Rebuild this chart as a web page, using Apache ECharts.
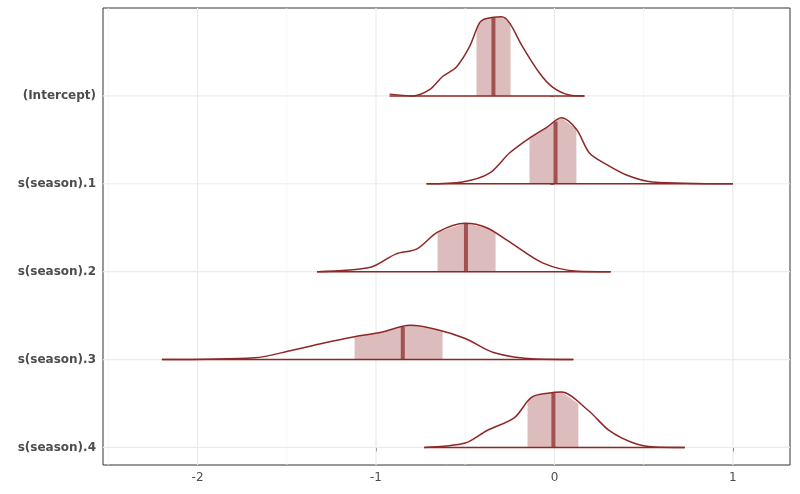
<!DOCTYPE html>
<html>
<head>
<meta charset="utf-8">
<script src="https://cdn.jsdelivr.net/npm/echarts@6/dist/echarts.min.js"></script>
<style>html,body{margin:0;padding:0;background:#fff}#box{width:800px;height:494px}</style>
</head>
<body>
<div id="box"></div>
<script>
// parameter names, bottom to top
var params = ['s(season).4', 's(season).3', 's(season).2', 's(season).1', '(Intercept)'];

// density outlines: x value, height above baseline (in row units)
var dens4 = [[-0.73,0],[-0.5,0.05],[-0.38,0.19],[-0.224,0.34],[-0.129,0.57],[-0.028,0.62],[0.039,0.63],[0.19,0.42],[0.308,0.19],[0.443,0.05],[0.56,0.005],[0.73,0]];
var dens3 = [[-2.2,0],[-1.68,0.02],[-1.48,0.1],[-1.31,0.18],[-1.12,0.26],[-0.97,0.31],[-0.81,0.39],[-0.655,0.34],[-0.5,0.24],[-0.342,0.08],[-0.106,0.005],[0.106,0]];
var dens2 = [[-1.33,0],[-1.03,0.05],[-0.89,0.2],[-0.77,0.26],[-0.655,0.45],[-0.5,0.55],[-0.38,0.5],[-0.26,0.35],[-0.067,0.1],[0.13,0.005],[0.315,0]];
var dens1 = [[-0.717,0],[-0.515,0.02],[-0.364,0.12],[-0.252,0.35],[-0.14,0.52],[-0.045,0.64],[0.039,0.75],[0.123,0.62],[0.196,0.35],[0.291,0.22],[0.403,0.1],[0.549,0.02],[1.0,0]];
var dens0 = [[-0.924,0.02],[-0.796,0],[-0.7,0.07],[-0.627,0.22],[-0.549,0.33],[-0.476,0.56],[-0.42,0.83],[-0.381,0.88],[-0.297,0.9],[-0.252,0.83],[-0.179,0.56],[-0.084,0.26],[-0.011,0.1],[0.084,0.01],[0.168,0]];
var densities = [dens4, dens3, dens2, dens1, dens0];

// inner interval [low, high] and median
var intervals = [[-0.151,0.134],[-1.12,-0.627],[-0.655,-0.33],[-0.14,0.123],[-0.437,-0.246]];
var medians = [-0.006, -0.85, -0.496, 0.006, -0.342];

var xTicks = [-2, -1, 0, 1];
var xGrid = [-2.5, -2, -1.5, -1, -0.5, 0, 0.5, 1];
var yTicks = [0, 1, 2, 3, 4];

function heightAt(d, x) {
    for (var i = 0; i < d.length - 1; i++) {
        if (x >= d[i][0] && x <= d[i + 1][0]) {
            var t = (x - d[i][0]) / (d[i + 1][0] - d[i][0]);
            return d[i][1] + t * (d[i + 1][1] - d[i][1]);
        }
    }
    return 0;
}

var series = [];
densities.forEach(function (d, k) {
    var lo = intervals[k][0], hi = intervals[k][1], med = medians[k];
    series.push({
        type: 'custom',
        silent: true,
        z: 2,
        data: [k],
        renderItem: function (params, api) {
            var pts = [api.coord([lo, k])];
            pts.push(api.coord([lo, k + heightAt(d, lo)]));
            d.forEach(function (p) {
                if (p[0] > lo && p[0] < hi) pts.push(api.coord([p[0], k + p[1]]));
            });
            pts.push(api.coord([hi, k + heightAt(d, hi)]));
            pts.push(api.coord([hi, k]));
            var m0 = api.coord([med, k]), m1 = api.coord([med, k + heightAt(d, med)]);
            return {
                type: 'group',
                children: [
                    { type: 'polygon', shape: { points: pts }, style: { fill: '#dcbcbc' } },
                    { type: 'line', shape: { x1: m0[0], y1: m0[1], x2: m1[0], y2: m1[1] },
                      style: { stroke: '#a25050', lineWidth: 4 } }
                ]
            };
        }
    });
    series.push({
        type: 'line',
        z: 3,
        data: d.map(function (p) { return [p[0], k + p[1]]; }),
        smooth: 0.3,
        symbol: 'none',
        silent: true,
        lineStyle: { color: '#8f2727', width: 1.5 }
    });
    series.push({
        type: 'line',
        z: 3,
        data: [[d[0][0], k], [d[d.length - 1][0], k]],
        symbol: 'none',
        silent: true,
        lineStyle: { color: '#8f2727', width: 1.5 }
    });
});

var chart = echarts.init(document.getElementById('box'));
var option = {
    animation: false,
    grid: { left: 103, right: 10, top: 8, bottom: 29, show: true, borderColor: '#333', borderWidth: 1 },
    xAxis: {
        type: 'value',
        min: -2.53,
        max: 1.32,
        axisLine: { show: false },
        axisTick: { show: true, customValues: xTicks, length: 4, lineStyle: { color: '#333' } },
        axisLabel: { customValues: xTicks, color: '#4d4d4d', fontSize: 12, fontFamily: 'DejaVu Sans', margin: 7 },
        splitLine: { show: false }
    },
    yAxis: {
        type: 'value',
        min: -0.2,
        max: 5.0,
        axisLine: { show: false },
        axisTick: { show: true, customValues: yTicks, length: 4, lineStyle: { color: '#333' } },
        axisLabel: {
            customValues: yTicks,
            color: '#4d4d4d', fontSize: 12, fontWeight: 'bold', fontFamily: 'DejaVu Sans', margin: 7,
            formatter: function (v) { return params[Math.round(v)]; }
        },
        splitLine: { show: false }
    },
    series: series.concat([{
        type: 'custom',
        silent: true,
        z: 1,
        data: [0],
        renderItem: function (p, api) {
            var kids = [];
            xGrid.forEach(function (x) {
                var a = api.coord([x, -0.2]), b = api.coord([x, 5.0]);
                var major = xTicks.indexOf(x) >= 0;
                kids.push({ type: 'line', shape: { x1: a[0], y1: a[1], x2: b[0], y2: b[1] },
                    style: { stroke: major ? '#ebebeb' : '#f4f4f4', lineWidth: major ? 1.2 : 0.8 } });
            });
            yTicks.forEach(function (y) {
                var a = api.coord([-2.53, y]), b = api.coord([1.32, y]);
                kids.push({ type: 'line', shape: { x1: a[0], y1: a[1], x2: b[0], y2: b[1] },
                    style: { stroke: '#ebebeb', lineWidth: 1.2 } });
            });
            return { type: 'group', children: kids };
        }
    }])
};
option && chart.setOption(option);
</script>
</body>
</html>
